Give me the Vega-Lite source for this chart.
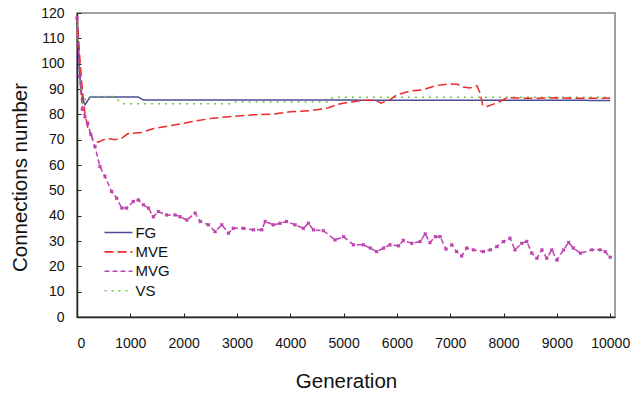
{
  "$schema": "https://vega.github.io/schema/vega-lite/v6.json",
  "width": 538,
  "height": 304,
  "autosize": "none",
  "padding": {"left": 77, "top": 13, "right": 18, "bottom": 81},
  "background": "white",
  "config": {
    "font": "Liberation Sans",
    "view": {"stroke": "#a0a0a0", "strokeWidth": 2},
    "axis": {"grid": false, "domainColor": "#222222", "domainWidth": 1.5, "tickColor": "#222222", "labelColor": "#111111", "titleColor": "#111111", "labelFontSize": 14, "titleFontSize": 20.5, "titleFontWeight": "normal"}
  },
  "datasets": {
    "d": [
      {"s": "FG", "g": 0, "v": 118}, {"s": "FG", "g": 30, "v": 105}, {"s": "FG", "g": 60, "v": 93}, {"s": "FG", "g": 100, "v": 86}, {"s": "FG", "g": 150, "v": 83.8}, {"s": "FG", "g": 245, "v": 86.8}, {"s": "FG", "g": 1150, "v": 86.8}, {"s": "FG", "g": 1245, "v": 85.7}, {"s": "FG", "g": 10000, "v": 85.5},

      {"s": "VS", "g": 0, "v": 118}, {"s": "VS", "g": 50, "v": 100}, {"s": "VS", "g": 100, "v": 84}, {"s": "VS", "g": 150, "v": 86}, {"s": "VS", "g": 250, "v": 87}, {"s": "VS", "g": 680, "v": 87}, {"s": "VS", "g": 860, "v": 84.2}, {"s": "VS", "g": 2900, "v": 84.2}, {"s": "VS", "g": 2960, "v": 84.9}, {"s": "VS", "g": 4700, "v": 84.9}, {"s": "VS", "g": 4800, "v": 86.7}, {"s": "VS", "g": 10000, "v": 86.7},

      {"s": "MVE", "g": 0, "v": 119}, {"s": "MVE", "g": 30, "v": 110}, {"s": "MVE", "g": 60, "v": 100}, {"s": "MVE", "g": 100, "v": 90}, {"s": "MVE", "g": 150, "v": 80}, {"s": "MVE", "g": 200, "v": 75}, {"s": "MVE", "g": 300, "v": 70}, {"s": "MVE", "g": 400, "v": 69}, {"s": "MVE", "g": 550, "v": 70.5}, {"s": "MVE", "g": 713, "v": 70}, {"s": "MVE", "g": 840, "v": 70.6}, {"s": "MVE", "g": 960, "v": 72.4}, {"s": "MVE", "g": 1200, "v": 72.8}, {"s": "MVE", "g": 1425, "v": 74.3}, {"s": "MVE", "g": 1745, "v": 75.5}, {"s": "MVE", "g": 2180, "v": 77.2}, {"s": "MVE", "g": 2550, "v": 78.5}, {"s": "MVE", "g": 3300, "v": 79.8}, {"s": "MVE", "g": 3680, "v": 80.1}, {"s": "MVE", "g": 4000, "v": 81}, {"s": "MVE", "g": 4400, "v": 81.5}, {"s": "MVE", "g": 4700, "v": 82.5}, {"s": "MVE", "g": 4900, "v": 84}, {"s": "MVE", "g": 5100, "v": 84.8}, {"s": "MVE", "g": 5400, "v": 85.6}, {"s": "MVE", "g": 5600, "v": 85.6}, {"s": "MVE", "g": 5700, "v": 84.4}, {"s": "MVE", "g": 5870, "v": 85.8}, {"s": "MVE", "g": 6000, "v": 87.7}, {"s": "MVE", "g": 6190, "v": 88.8}, {"s": "MVE", "g": 6300, "v": 89.3}, {"s": "MVE", "g": 6490, "v": 89.7}, {"s": "MVE", "g": 6720, "v": 91.3}, {"s": "MVE", "g": 6960, "v": 92}, {"s": "MVE", "g": 7130, "v": 91.9}, {"s": "MVE", "g": 7240, "v": 90.8}, {"s": "MVE", "g": 7370, "v": 90.4}, {"s": "MVE", "g": 7500, "v": 91.3}, {"s": "MVE", "g": 7560, "v": 88.4}, {"s": "MVE", "g": 7610, "v": 83.4}, {"s": "MVE", "g": 7690, "v": 83.1}, {"s": "MVE", "g": 7900, "v": 84.7}, {"s": "MVE", "g": 8070, "v": 86.6}, {"s": "MVE", "g": 8500, "v": 86.3}, {"s": "MVE", "g": 9000, "v": 86.5}, {"s": "MVE", "g": 9500, "v": 86.3}, {"s": "MVE", "g": 10000, "v": 86.4},

      {"s": "MVG", "g": 0, "v": 118}, {"s": "MVG", "g": 50, "v": 95}, {"s": "MVG", "g": 100, "v": 82}, {"s": "MVG", "g": 150, "v": 79}, {"s": "MVG", "g": 200, "v": 76.5}, {"s": "MVG", "g": 260, "v": 72}, {"s": "MVG", "g": 338, "v": 67.3}, {"s": "MVG", "g": 430, "v": 59.4}, {"s": "MVG", "g": 525, "v": 55.5}, {"s": "MVG", "g": 650, "v": 49.5}, {"s": "MVG", "g": 745, "v": 46.9}, {"s": "MVG", "g": 840, "v": 43}, {"s": "MVG", "g": 930, "v": 43}, {"s": "MVG", "g": 1056, "v": 45.6}, {"s": "MVG", "g": 1150, "v": 46.2}, {"s": "MVG", "g": 1245, "v": 44.3}, {"s": "MVG", "g": 1340, "v": 43}, {"s": "MVG", "g": 1430, "v": 39.6}, {"s": "MVG", "g": 1525, "v": 41.6}, {"s": "MVG", "g": 1680, "v": 40.3}, {"s": "MVG", "g": 1840, "v": 40.3}, {"s": "MVG", "g": 1930, "v": 39.6}, {"s": "MVG", "g": 2060, "v": 38.3}, {"s": "MVG", "g": 2215, "v": 41}, {"s": "MVG", "g": 2310, "v": 37.7}, {"s": "MVG", "g": 2465, "v": 36.4}, {"s": "MVG", "g": 2590, "v": 33.7}, {"s": "MVG", "g": 2715, "v": 36.4}, {"s": "MVG", "g": 2840, "v": 33.1}, {"s": "MVG", "g": 2930, "v": 35}, {"s": "MVG", "g": 3120, "v": 35}, {"s": "MVG", "g": 3310, "v": 34.4}, {"s": "MVG", "g": 3465, "v": 34.4}, {"s": "MVG", "g": 3530, "v": 37.7}, {"s": "MVG", "g": 3680, "v": 36.4}, {"s": "MVG", "g": 3810, "v": 37}, {"s": "MVG", "g": 3930, "v": 37.7}, {"s": "MVG", "g": 4090, "v": 36.4}, {"s": "MVG", "g": 4245, "v": 35}, {"s": "MVG", "g": 4340, "v": 37}, {"s": "MVG", "g": 4435, "v": 34.4}, {"s": "MVG", "g": 4620, "v": 34.1}, {"s": "MVG", "g": 4840, "v": 30.4}, {"s": "MVG", "g": 5000, "v": 31.7}, {"s": "MVG", "g": 5185, "v": 28.5}, {"s": "MVG", "g": 5370, "v": 28.5}, {"s": "MVG", "g": 5500, "v": 27.2}, {"s": "MVG", "g": 5620, "v": 25.8}, {"s": "MVG", "g": 5750, "v": 27.2}, {"s": "MVG", "g": 5870, "v": 28.5}, {"s": "MVG", "g": 6030, "v": 28.1}, {"s": "MVG", "g": 6120, "v": 30.2}, {"s": "MVG", "g": 6280, "v": 29.1}, {"s": "MVG", "g": 6435, "v": 29.8}, {"s": "MVG", "g": 6530, "v": 32.8}, {"s": "MVG", "g": 6620, "v": 29.4}, {"s": "MVG", "g": 6720, "v": 31.7}, {"s": "MVG", "g": 6810, "v": 31.7}, {"s": "MVG", "g": 6920, "v": 26.8}, {"s": "MVG", "g": 7030, "v": 28.5}, {"s": "MVG", "g": 7120, "v": 25.8}, {"s": "MVG", "g": 7215, "v": 24.1}, {"s": "MVG", "g": 7310, "v": 27.2}, {"s": "MVG", "g": 7435, "v": 26.5}, {"s": "MVG", "g": 7620, "v": 25.8}, {"s": "MVG", "g": 7750, "v": 26.5}, {"s": "MVG", "g": 7875, "v": 27.8}, {"s": "MVG", "g": 8000, "v": 29.8}, {"s": "MVG", "g": 8120, "v": 31.1}, {"s": "MVG", "g": 8215, "v": 26.5}, {"s": "MVG", "g": 8340, "v": 29.1}, {"s": "MVG", "g": 8435, "v": 29.8}, {"s": "MVG", "g": 8530, "v": 25.2}, {"s": "MVG", "g": 8625, "v": 23.2}, {"s": "MVG", "g": 8720, "v": 26.5}, {"s": "MVG", "g": 8810, "v": 23.2}, {"s": "MVG", "g": 8905, "v": 26.5}, {"s": "MVG", "g": 9000, "v": 22.5}, {"s": "MVG", "g": 9125, "v": 26.5}, {"s": "MVG", "g": 9220, "v": 29.4}, {"s": "MVG", "g": 9310, "v": 27.2}, {"s": "MVG", "g": 9440, "v": 25.2}, {"s": "MVG", "g": 9655, "v": 26.5}, {"s": "MVG", "g": 9810, "v": 26.5}, {"s": "MVG", "g": 9905, "v": 25.8}, {"s": "MVG", "g": 10000, "v": 23.6}
    ]
  },
  "data": {"name": "d"},
  "encoding": {
    "x": {"field": "g", "type": "quantitative", "scale": {"domain": [0, 10090], "nice": false, "zero": false},
      "axis": {"title": "Generation", "values": [0,1000,2000,3000,4000,5000,6000,7000,8000,9000,10000], "format": "d", "tickSize": -4, "labelPadding": 23, "titlePadding": 21}},
    "y": {"field": "v", "type": "quantitative", "scale": {"domain": [0, 120], "nice": false},
      "axis": {"title": "Connections number", "values": [0,10,20,30,40,50,60,70,80,90,100,110,120], "tickSize": -4, "labelPadding": 17, "titlePadding": 10, "titleY": 164}},
    "color": {"field": "s", "type": "nominal", "scale": {"domain": ["FG", "MVE", "MVG", "VS"], "range": ["#4a4a96", "#f02828", "#bd42b0", "#66c83c"]},
      "legend": {"orient": "none", "legendX": 34, "legendY": 212, "title": null, "symbolType": "M-3,0H3", "symbolSize": 87, "symbolStrokeWidth": 1.6, "symbolFillColor": "transparent", "labelFontSize": 15, "labelColor": "#111111", "labelOffset": 9.4, "rowPadding": 3.4, "padding": 0}},
    "strokeDash": {"field": "s", "type": "nominal", "scale": {"domain": ["FG", "MVE", "MVG", "VS"], "range": [[1, 0], [9, 4], [5, 3], [2, 5]]}, "legend": {"orient": "none", "legendX": 34, "legendY": 212, "title": null}}
  },
  "layer": [
    {"mark": {"type": "line", "strokeWidth": 1.5}, "encoding": {"strokeWidth": {"condition": {"test": "datum.s === 'VS'", "value": 2.2}, "value": 1.5}}},
    {"transform": [{"filter": "datum.s === 'MVG'"}], "mark": {"type": "point", "shape": "cross", "angle": 45, "size": 16, "filled": true, "opacity": 1}, "encoding": {"strokeDash": {"value": [1, 0]}}}
  ]
}
